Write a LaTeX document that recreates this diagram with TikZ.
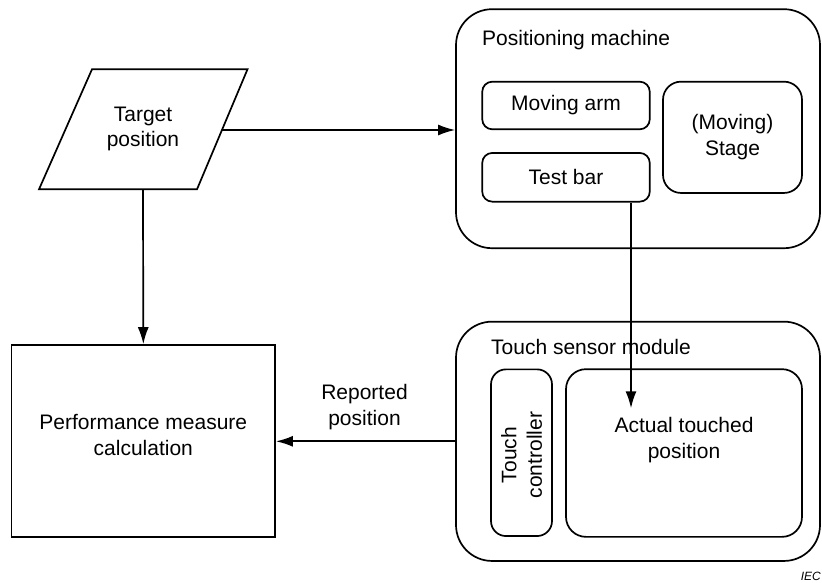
\documentclass[tikz,border=0pt]{standalone}
\usepackage{fontspec}
\setmainfont{Liberation Sans}
\usetikzlibrary{arrows.meta}
\begin{document}
\begin{tikzpicture}[x=1pt,y=-1pt,
  every node/.style={font=\fontsize{21}{25.5}\selectfont, inner sep=0pt},
  box/.style={draw, line width=1.7pt, rounded corners=#1},
  box/.default=10pt,
  lbl/.style={align=center},
  arr/.style={line width=1.7pt, -{Latex[length=17pt,width=11pt]}}
]
\useasboundingbox (0,0) rectangle (822,582);
% target position parallelogram
\draw[line width=1.7pt] (92,69.3) -- (247.5,69.3) -- (197,189.3) -- (39,189.3) -- cycle;
\node[lbl] (tp) at (143,129) {Target\\position};
\coordinate (tpR) at (222,130);
\coordinate (tpB) at (143,189.3);
% positioning machine
\node[box=36pt, minimum width=364pt, minimum height=239pt] (pm) at (638,128.7) {};
\node[anchor=west] (pmt) at (482,40) {Positioning machine};
\node[box=10pt, minimum width=167.5pt, minimum height=47.6pt] (ma) at (566,105.5) {Moving arm};
\node[box=10pt, minimum width=167.5pt, minimum height=48.7pt] (tb) at (566,177.3) {Test bar};
\node[box=18pt, minimum width=139pt, minimum height=111.3pt, lbl] (st) at (732.5,137.3) {(Moving)\\Stage};
% touch sensor module
\node[box=36pt, minimum width=364pt, minimum height=239.3pt] (tsm) at (638,441.3) {};
\node[anchor=west] (tsmt) at (491,347) {Touch sensor module};
\node[box=15pt, minimum width=61pt, minimum height=166.7pt] (tc) at (521.5,452.7) {};
\node[lbl, rotate=90] (tct) at (521.5,455) {Touch\\controller};
\node[box=20pt, minimum width=236pt, minimum height=167.7pt] (atp) at (684,453) {};
\node[lbl] (atpt) at (684,440) {Actual touched\\position};
% performance
\node[draw, line width=1.7pt, minimum width=263.5pt, minimum height=192pt] (perf) at (143.3,441) {};
\node[lbl] (perft) at (143.3,435) {Performance measure\\calculation};
% connectors
\draw[arr] (tpR) -- (pm.west |- tpR);
\draw[arr] (tpB) -- (perf.north);
\coordinate (tip) at (631,408.3);
\draw[arr] (tb.south -| tip) -- (tip);
\draw[arr] (tsm.west) -- (perf.east |- tsm.west);
\node[lbl] (rp) at (364.5,407) {Reported\\position};
\node[anchor=east, font=\fontsize{12}{14}\selectfont\itshape] (iec) at (821,576) {IEC};
\end{tikzpicture}
\end{document}
